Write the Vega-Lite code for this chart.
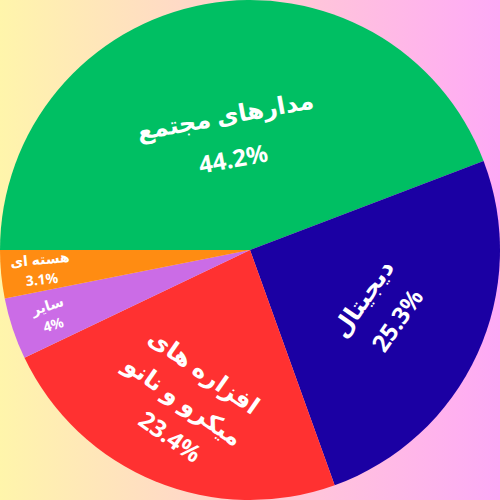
{
  "$schema": "https://vega.github.io/schema/vega-lite/v6.json",
  "width": 500,
  "height": 500,
  "padding": 0,
  "autosize": {"type": "fit", "contains": "padding"},
  "config": {"view": {"stroke": null}},
  "resolve": {"scale": {"radius": "independent"}},
  "data": {
    "values": [
      {"name": "مدارهای مجتمع", "value": 0.442},
      {"name": "دیجیتال", "value": 0.253},
      {"name": "افزاره های\nمیکرو و نانو", "value": 0.234},
      {"name": "سایر", "value": 0.04},
      {"name": "هسته ای", "value": 0.031}
    ]
  },
  "layer": [
    {
      "data": {"values": [{"bg": 1}]},
      "mark": {
        "type": "rect",
        "color": {
          "gradient": "linear",
          "x1": 0, "x2": 1, "y1": 0, "y2": 0,
          "stops": [
            {"offset": 0, "color": "#fff5ab"},
            {"offset": 1, "color": "#ffa9f6"}
          ]
        }
      },
      "encoding": {}
    },
    {
      "mark": {"type": "arc", "strokeWidth": 0},
      "encoding": {
        "theta": {"field": "value", "type": "quantitative", "stack": true,
          "scale": {"domain": [0, 1], "range": [-1.5707963, 4.712389]}},
        "order": {"field": "value", "sort": "descending"},
        "color": {"field": "name", "type": "nominal", "legend": null,
          "scale": {
            "domain": ["مدارهای مجتمع", "دیجیتال", "افزاره های\nمیکرو و نانو", "سایر", "هسته ای"],
            "range": ["#00bf63", "#1b00a3", "#ff3131", "#cb6ce6", "#ff8c12"]
          }}
      }
    },
    {
      "mark": {"type": "text", "baseline": "bottom", "lineBreak": "\n", "lineHeight": 36, "dy": -3, "fontWeight": "bold",
        "color": "white", "font": "Noto Sans, DejaVu Sans", "align": "center"},
      "encoding": {
        "theta": {"field": "value", "type": "quantitative", "stack": true},
        "order": {"field": "value", "sort": "descending"},
        "radius": {"field": "value", "type": "quantitative",
          "scale": {"type": "linear", "zero": false, "domain": [0.031, 0.04, 0.234, 0.253, 0.442], "range": [210, 210, 146, 139, 120]}},
        "text": {"field": "name", "type": "nominal"},
        "angle": {"condition": [
          {"test": "datum.value === 0.442", "value": -10.4},
          {"test": "datum.value === 0.253", "value": -55},
          {"test": "datum.value === 0.234", "value": 35},
          {"test": "datum.value === 0.04", "value": -17}
        ], "value": -5.6},
        "size": {"condition": {"test": "datum.value < 0.1", "value": 14}, "value": 24}
      }
    },
    {
      "mark": {"type": "text", "baseline": "top", "dy": 3, "fontWeight": "bold",
        "color": "white", "font": "Noto Sans, DejaVu Sans", "align": "center"},
      "encoding": {
        "theta": {"field": "value", "type": "quantitative", "stack": true},
        "order": {"field": "value", "sort": "descending"},
        "radius": {"field": "value", "type": "quantitative",
          "scale": {"type": "linear", "zero": false, "domain": [0.031, 0.04, 0.234, 0.253, 0.442], "range": [210, 210, 190, 150, 106]}},
        "text": {"field": "value", "type": "quantitative", "format": ".3~%"},
        "angle": {"condition": [
          {"test": "datum.value === 0.442", "value": -10.4},
          {"test": "datum.value === 0.253", "value": -55},
          {"test": "datum.value === 0.234", "value": 35},
          {"test": "datum.value === 0.04", "value": -17}
        ], "value": -5.6},
        "size": {"condition": {"test": "datum.value < 0.1", "value": 14}, "value": 24}
      }
    }
  ]
}
